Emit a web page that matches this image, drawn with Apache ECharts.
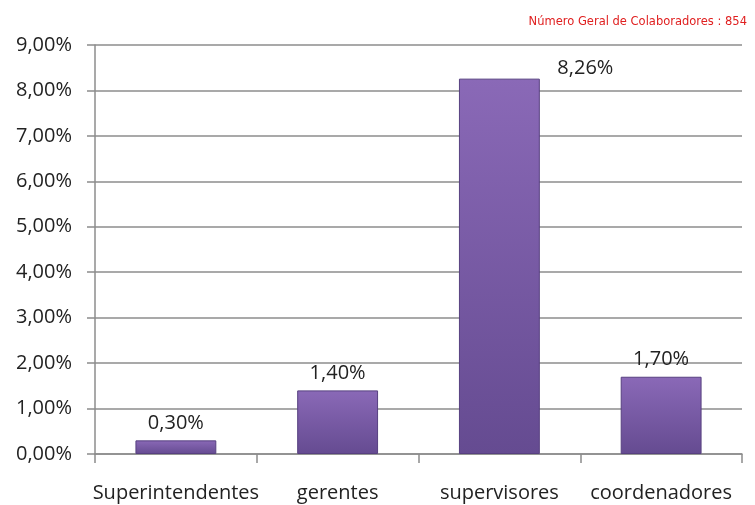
<!DOCTYPE html>
<html>
<head>
<meta charset="utf-8">
<script src="https://cdn.jsdelivr.net/npm/echarts@6/dist/echarts.min.js"></script>
<style>
  html, body { margin: 0; padding: 0; background: #fff; }
  #main { width: 755px; height: 505px; }
</style>
</head>
<body>
<div id="main"></div>
<script>
// dados do gráfico
var categorias = ['Superintendentes', 'gerentes', 'supervisores', 'coordenadores'];
var percentuais = [0.30, 1.40, 8.26, 1.70];
var titulo = 'Número Geral de Colaboradores : 854';

function pct(v) {
  return v.toFixed(2).replace('.', ',') + '%';
}

var chart = echarts.init(document.getElementById('main'));

var barColor = new echarts.graphic.LinearGradient(0, 0, 0, 1, [
  { offset: 0, color: '#8a69b7' },
  { offset: 1, color: '#654b91' }
]);

var fonte = 'Open Sans';

chart.setOption({
  animation: false,
  title: {
    text: titulo,
    right: 3,
    top: 11,
    textStyle: {
      color: '#e02020',
      fontSize: 11.5,
      fontWeight: 'normal',
      fontFamily: 'DejaVu Sans'
    }
  },
  grid: { left: 95, right: 13, top: 45, bottom: 51 },
  xAxis: {
    type: 'category',
    data: categorias,
    axisLine: { lineStyle: { color: '#8c8c8c', width: 1.5 } },
    axisTick: { show: true, interval: 0, length: 9, lineStyle: { color: '#8c8c8c', width: 1.5 } },
    axisLabel: {
      interval: 0,
      color: '#222',
      fontSize: 20,
      fontFamily: fonte,
      margin: 29
    }
  },
  yAxis: {
    type: 'value',
    min: 0,
    max: 9,
    interval: 1,
    axisLine: { show: true, lineStyle: { color: '#8c8c8c', width: 1.5 } },
    axisTick: { show: true, length: 8, lineStyle: { color: '#8c8c8c', width: 1.5 } },
    splitLine: { lineStyle: { color: '#8c8c8c', width: 1.5 } },
    axisLabel: {
      color: '#222',
      fontSize: 20,
      fontFamily: fonte,
      margin: 23,
      formatter: function (v) { return pct(v); }
    }
  },
  series: [{
    type: 'bar',
    barWidth: '50%',
    data: percentuais.map(function (v, i) {
      var item = { value: v };
      if (i === 2) {
        item.label = { offset: [86, 7] };
      }
      return item;
    }),
    itemStyle: {
      color: barColor,
      borderColor: '#574080',
      borderWidth: 1
    },
    label: {
      show: true,
      position: 'top',
      distance: 7,
      color: '#222',
      fontSize: 20,
      fontFamily: fonte,
      formatter: function (p) { return pct(p.value); }
    }
  }]
});
</script>
</body>
</html>
